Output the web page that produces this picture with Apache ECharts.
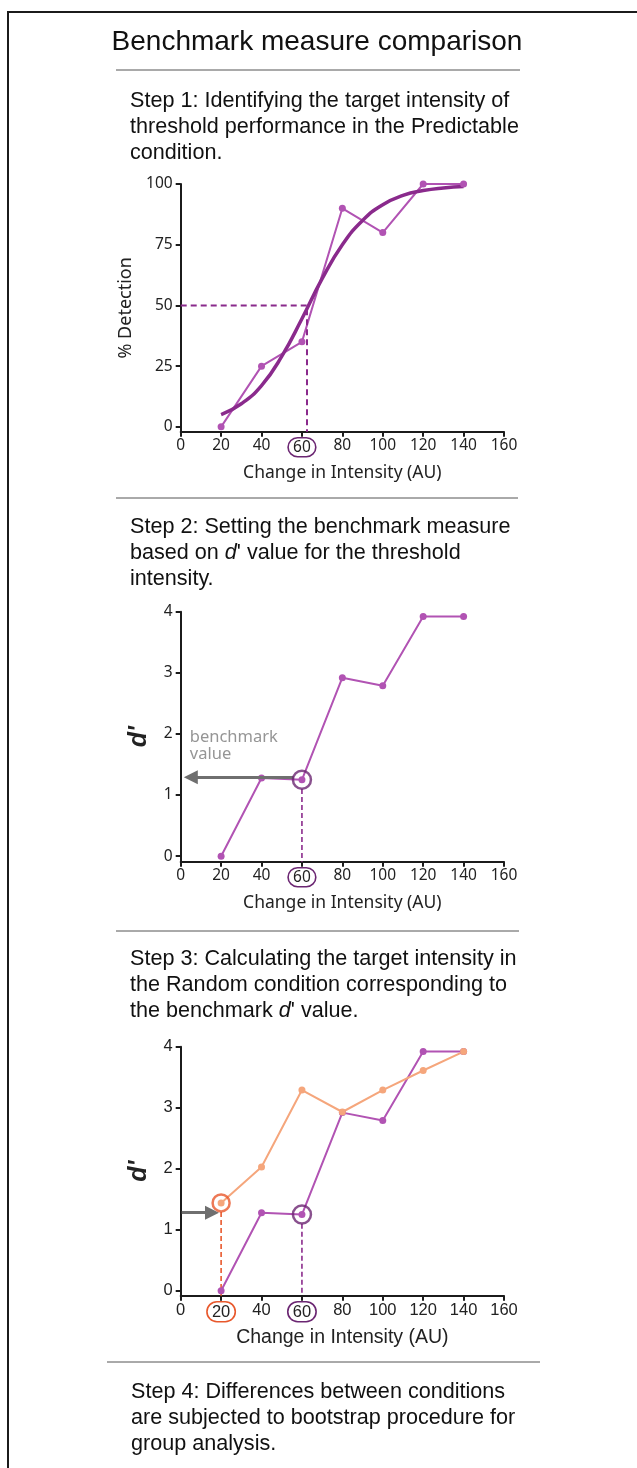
<!DOCTYPE html>
<html><head><meta charset="utf-8">
<script src="https://cdn.jsdelivr.net/npm/echarts@6/dist/echarts.min.js"></script>
<style>html,body{margin:0;padding:0;background:#fff}#c{width:637px;height:1468px}</style>
</head><body><div id="c"></div>
<script>
// ---------- data ----------
const xTickValues = [0, 20, 40, 60, 80, 100, 120, 140, 160];
const pctTickValues = [0, 25, 50, 75, 100];
const dTickValues = [0, 1, 2, 3, 4];
const intensities = [20, 40, 60, 80, 100, 120, 140];
const detectionPredictable = [0, 25, 35, 90, 80, 100, 100];
const fitIntensity = [20, 30, 40, 50, 60, 70, 80, 90, 100, 110, 120, 130, 140];
const fitDetection = [5, 9.5, 17, 29, 44.5, 61, 75, 85, 91.5, 95.3, 97.3, 98.4, 99];
const dPrimePredictable = [0, 1.28, 1.25, 2.92, 2.79, 3.92, 3.92];
const dPrimeRandom = [1.44, 2.03, 3.29, 2.93, 3.29, 3.61, 3.92];
const thresholdPct = 50;
const thresholdIntensity = 62.5;
const benchmarkIntensity = 60;
const benchmarkD = 1.25;
const benchmarkArrowD = 1.29;
const randomIntensity = 20;
const randomD = 1.44;

// ---------- styles ----------
const PURPLE = '#b153b3';
const DARK = '#8a2a8c';
const CIRCLE_P = '#6b2672';
const ORANGE = '#f5a67c';
const RED = '#e8582c';
const GREY = '#6f6f6f';
const AX = '#1b1b1b';

const pair = (xs, ys) => xs.map((x, i) => [x, ys[i]]);

function xAxisCfg(gi, circled, font, fs, nfs) {
  const ring = c => ({ fontSize: fs, fontFamily: font, color: '#222', borderColor: c, borderWidth: 1.6,
    borderRadius: 12, padding: [2, 5, 1, 5] });
  return {
    type: 'value', gridIndex: gi, min: 0, max: 160, interval: 20,
    axisLine: { onZero: false, lineStyle: { color: AX, width: 2 } },
    axisTick: { show: true, length: 5, lineStyle: { color: AX, width: 2 } },
    splitLine: { show: false },
    axisLabel: {
      color: '#222', fontSize: fs, fontFamily: font, margin: 6,
      formatter: v => circled[v] ? '{' + circled[v] + '|' + v + '}' : String(v),
      rich: { p: ring(CIRCLE_P), o: ring(RED) }
    },
    name: 'Change in Intensity (AU)', nameLocation: 'middle', nameGap: 32,
    nameTextStyle: { fontSize: nfs, color: '#222', fontFamily: font }
  };
}
function yAxisCfg(gi, min, max, ticks, name, nameStyle, font, fs) {
  return {
    type: 'value', gridIndex: gi, min: min, max: max,
    axisLine: { show: true, onZero: false, lineStyle: { color: AX, width: 2 } },
    axisTick: { show: true, length: 5, customValues: ticks, lineStyle: { color: AX, width: 2 } },
    axisLabel: { customValues: ticks, color: '#222', fontSize: fs, fontFamily: font, margin: 8 },
    splitLine: { show: false },
    name: name, nameLocation: 'middle', nameGap: 29, nameTextStyle: nameStyle
  };
}

const dName = { fontSize: 25, fontStyle: 'italic', fontWeight: 'bold', fontFamily: 'Liberation Sans', color: '#222' };

const arrowLine = (from, to) => ({
  silent: true, symbol: ['none', 'triangle'], symbolSize: 14, label: { show: false },
  lineStyle: { color: GREY, width: 3, type: 'solid' }, itemStyle: { color: GREY },
  emphasis: { disabled: true },
  data: [[{ coord: from }, { coord: to }]]
});

const option = {
  animation: false,
  backgroundColor: '#fff',
  grid: [
    { left: 180.7, top: 184, width: 323.3, height: 247.7 },
    { left: 180.7, top: 611.7, width: 323.3, height: 250 },
    { left: 180.7, top: 1046.7, width: 323.3, height: 249 }
  ],
  xAxis: [
    xAxisCfg(0, { 60: 'p' }, 'Noto Sans', 15.5, 17.5),
    xAxisCfg(1, { 60: 'p' }, 'Noto Sans', 15.5, 17.5),
    xAxisCfg(2, { 20: 'o', 60: 'p' }, 'Liberation Sans', 16.5, 19.5)
  ],
  yAxis: [
    yAxisCfg(0, -2, 100, pctTickValues, '% Detection', { fontSize: 18, fontFamily: 'Noto Sans', color: '#222' }, 'Noto Sans', 15.5),
    yAxisCfg(1, -0.09, 4, dTickValues, "d'", dName, 'Noto Sans', 15.5),
    yAxisCfg(2, -0.08, 4, dTickValues, "d'", dName, 'Liberation Sans', 16.5)
  ],
  series: [
    // ---- chart 1 ----
    { type: 'line', xAxisIndex: 0, yAxisIndex: 0, data: pair(intensities, detectionPredictable),
      symbol: 'circle', symbolSize: 7, itemStyle: { color: PURPLE }, lineStyle: { color: PURPLE, width: 2 } },
    { type: 'line', xAxisIndex: 0, yAxisIndex: 0, data: pair(fitIntensity, fitDetection), smooth: 0.5,
      showSymbol: false, lineStyle: { color: DARK, width: 3.5 } },
    { type: 'line', xAxisIndex: 0, yAxisIndex: 0,
      data: [[0, thresholdPct], [thresholdIntensity, thresholdPct], [thresholdIntensity, -2]],
      showSymbol: false, lineStyle: { color: DARK, width: 2, type: [6, 4] } },
    // ---- chart 2 ----
    { type: 'line', xAxisIndex: 1, yAxisIndex: 1, data: pair(intensities, dPrimePredictable),
      symbol: 'circle', symbolSize: 7, itemStyle: { color: PURPLE }, lineStyle: { color: PURPLE, width: 2 } },
    { type: 'line', xAxisIndex: 1, yAxisIndex: 1, data: [[benchmarkIntensity, benchmarkD - 0.15], [benchmarkIntensity, -0.09]],
      showSymbol: false, lineStyle: { color: DARK, width: 1.6, type: [5, 3] },
      markLine: arrowLine([56, benchmarkArrowD], [5, benchmarkArrowD]) },
    { type: 'scatter', xAxisIndex: 1, yAxisIndex: 1, data: [[benchmarkIntensity, benchmarkD]], symbol: 'circle', symbolSize: 18,
      itemStyle: { color: 'rgba(0,0,0,0)', borderColor: CIRCLE_P, borderWidth: 2.5 }, z: 5 },
    { type: 'scatter', xAxisIndex: 1, yAxisIndex: 1, data: [[4.5, 1.8]], symbolSize: 0,
      label: { show: true, position: [0, 0], align: 'left', verticalAlign: 'middle', formatter: 'benchmark\nvalue',
        color: '#7a7a7a', fontSize: 16.5, lineHeight: 17, fontFamily: 'Noto Sans' } },
    // ---- chart 3 ----
    { type: 'line', xAxisIndex: 2, yAxisIndex: 2, data: pair(intensities, dPrimePredictable),
      symbol: 'circle', symbolSize: 7, itemStyle: { color: PURPLE }, lineStyle: { color: PURPLE, width: 2 } },
    { type: 'line', xAxisIndex: 2, yAxisIndex: 2, data: pair(intensities, dPrimeRandom),
      symbol: 'circle', symbolSize: 7, itemStyle: { color: ORANGE }, lineStyle: { color: ORANGE, width: 2 } },
    { type: 'line', xAxisIndex: 2, yAxisIndex: 2, data: [[benchmarkIntensity, benchmarkD - 0.15], [benchmarkIntensity, -0.08]],
      showSymbol: false, lineStyle: { color: DARK, width: 1.6, type: [5, 3] } },
    { type: 'line', xAxisIndex: 2, yAxisIndex: 2, data: [[randomIntensity, randomD - 0.15], [randomIntensity, -0.08]],
      showSymbol: false, lineStyle: { color: RED, width: 1.6, type: [5, 3] },
      markLine: arrowLine([0.5, benchmarkArrowD - 0.01], [15.5, benchmarkArrowD - 0.01]) },
    { type: 'scatter', xAxisIndex: 2, yAxisIndex: 2, data: [[benchmarkIntensity, benchmarkD]], symbol: 'circle', symbolSize: 18,
      itemStyle: { color: 'rgba(0,0,0,0)', borderColor: CIRCLE_P, borderWidth: 2.5 }, z: 5 },
    { type: 'scatter', xAxisIndex: 2, yAxisIndex: 2, data: [[randomIntensity, randomD]], symbol: 'circle', symbolSize: 17,
      itemStyle: { color: 'rgba(0,0,0,0)', borderColor: RED, borderWidth: 2.5 }, z: 5 }
  ],
  graphic: [
    { type: 'line', shape: { x1: 8, y1: 11, x2: 8, y2: 1468 }, style: { stroke: '#1b1b1b', lineWidth: 2 } },
    { type: 'line', shape: { x1: 7, y1: 12, x2: 637, y2: 12 }, style: { stroke: '#1b1b1b', lineWidth: 2 } },
    { type: 'text', x: 317, y: 42, style: { text: 'Benchmark measure comparison', fontSize: 28, fontFamily: 'Liberation Sans',
      fill: '#111', align: 'center', verticalAlign: 'middle' } },
    { type: 'line', shape: { x1: 116, y1: 70, x2: 520, y2: 70 }, style: { stroke: '#555', lineWidth: 1 } },
    { type: 'line', shape: { x1: 116, y1: 498, x2: 518, y2: 498 }, style: { stroke: '#555', lineWidth: 1 } },
    { type: 'line', shape: { x1: 116, y1: 931, x2: 519, y2: 931 }, style: { stroke: '#555', lineWidth: 1 } },
    { type: 'line', shape: { x1: 107, y1: 1362, x2: 540, y2: 1362 }, style: { stroke: '#555', lineWidth: 1 } },
    { type: 'text', x: 130, y: 88, style: { text: 'Step 1: Identifying the target intensity of\nthreshold performance in the Predictable\ncondition.',
      fontSize: 21.6, lineHeight: 26, fontFamily: 'Liberation Sans', fill: '#111', verticalAlign: 'top' } },
    { type: 'text', x: 130, y: 514, style: { text: "Step 2: Setting the benchmark measure\nbased on {i|d}' value for the threshold\nintensity.",
      fontSize: 21.6, lineHeight: 26, fontFamily: 'Liberation Sans', fill: '#111', verticalAlign: 'top',
      rich: { i: { fontStyle: 'italic', fontSize: 21.6, lineHeight: 26, fontFamily: 'Liberation Sans', fill: '#111' } } } },
    { type: 'text', x: 130, y: 946, style: { text: "Step 3: Calculating the target intensity in\nthe Random condition corresponding to\nthe benchmark {i|d}' value.",
      fontSize: 21.6, lineHeight: 26, fontFamily: 'Liberation Sans', fill: '#111', verticalAlign: 'top',
      rich: { i: { fontStyle: 'italic', fontSize: 21.6, lineHeight: 26, fontFamily: 'Liberation Sans', fill: '#111' } } } },
    { type: 'text', x: 131, y: 1379, style: { text: 'Step 4: Differences between conditions\nare subjected to bootstrap procedure for\ngroup analysis.',
      fontSize: 21.6, lineHeight: 26, fontFamily: 'Liberation Sans', fill: '#111', verticalAlign: 'top' } }
  ]
};
const chart = echarts.init(document.getElementById('c'), null, { renderer: 'canvas' });
chart.setOption(option);
</script></body></html>
